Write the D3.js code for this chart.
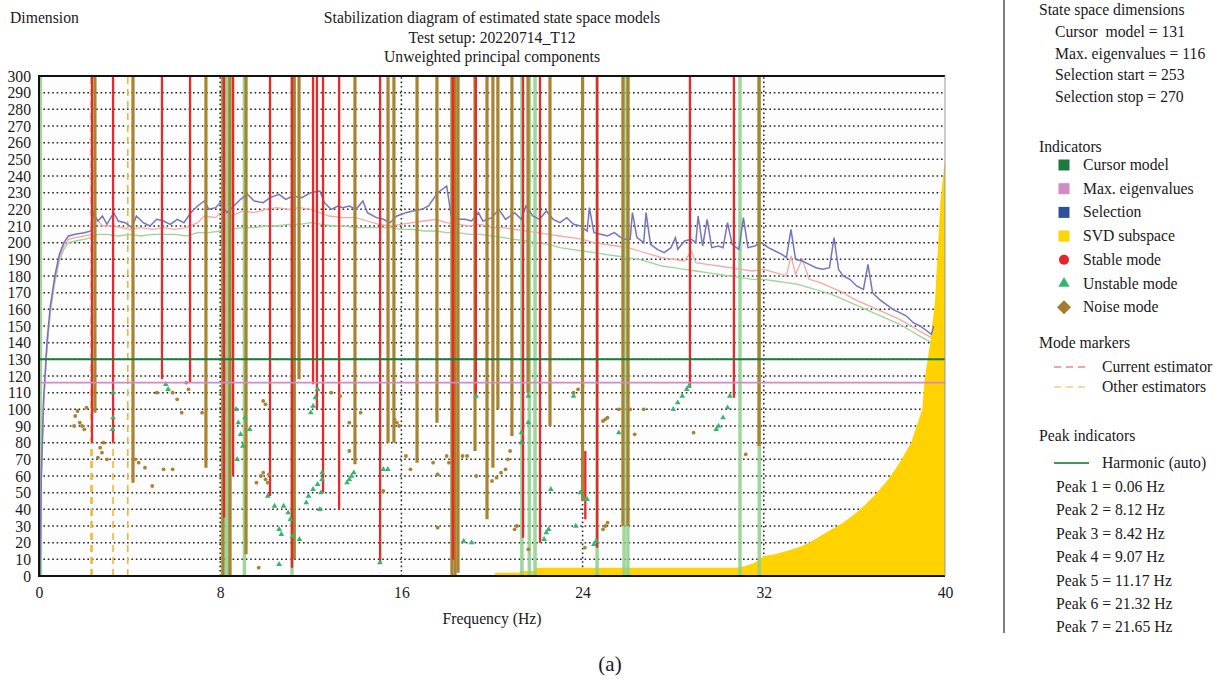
<!DOCTYPE html>
<html lang="en">
<head>
    <meta charset="UTF-8">
    <title>Stabilization diagram</title>
    <script src="https://d3js.org/d3.v7.min.js"></script>
    <style>
        body {
            margin: 0;
            background: #fff;
            font-family: "Liberation Serif", "DejaVu Serif", serif;
        }
        svg { display: block; }
        text { fill: #1a1a1a; font-size: 15.7px; }
    </style>
</head>
<body>
<div id="container"></div>
<script>

// ---- data ----
const xTickValues = [0, 8, 16, 24, 32, 40];
const yTickValues = [0, 10, 20, 30, 40, 50, 60, 70, 80, 90, 100, 110, 120, 130, 140, 150,
    160, 170, 180, 190, 200, 210, 220, 230, 240, 250, 260, 270, 280, 290, 300];

const cursorModel = 130;
const maxEigen = 116;

// [frequency, lowest dimension, highest dimension]
const stableLines = [
    [2.34, 80, 300], [3.27, 80, 300], [5.43, 118, 300], [6.67, 116, 300], [8.17, 35, 300],
    [8.57, 60, 300], [10.20, 48, 300], [11.17, 5, 300], [12.10, 115, 300], [12.27, 100, 300],
    [12.54, 50, 300], [13.25, 40, 300], [15.06, 8, 300], [18.28, 10, 300], [19.29, 108, 300],
    [21.37, 23, 300], [22.12, 20, 300], [24.12, 34, 75], [24.64, 17, 300], [28.74, 113, 300],
    [30.68, 107, 300]
];
const noiseLines = [
    [2.47, 98, 300], [4.15, 56, 300], [7.37, 65, 300], [8.12, 0, 300], [8.43, 0, 300],
    [9.14, 13, 300], [11.27, 10, 300], [11.48, 118, 300], [13.95, 67, 300], [15.41, 80, 300],
    [15.67, 80, 300], [16.69, 68, 300], [17.57, 92, 300], [18.23, 0, 300], [18.37, 0, 300],
    [18.50, 2, 300], [19.25, 75, 300], [19.78, 34, 300], [20.04, 65, 300], [20.26, 100, 300],
    [20.88, 84, 300], [21.59, 110, 300], [22.56, 90, 300], [24.00, 45, 300], [25.78, 30, 300],
    [26.00, 30, 300], [31.79, 78, 300]
];
const harmonicFreqs = [0.06, 8.12, 8.27, 8.42, 9.07, 11.17, 21.32, 21.65, 21.90, 24.64,
    25.83, 26.00, 30.95, 31.80];
const otherEstimatorLines = [[2.30, 0, 300], [2.34, 0, 80], [3.27, 0, 80], [3.92, 0, 300]];

// [frequency, dimension]
const noisePoints = [
    [1.6, 96], [1.8, 92], [1.9, 90], [2.0, 88], [1.7, 99], [2.1, 101], [1.55, 90], [2.7, 77],
    [2.85, 80], [2.78, 74], [2.6, 71], [3.0, 70], [4.25, 70], [4.4, 68], [4.68, 65], [5.0, 54],
    [5.5, 64], [5.9, 64], [5.2, 110], [5.9, 110], [6.1, 106], [6.3, 98], [6.5, 116], [6.6, 112],
    [7.2, 98], [9.9, 105], [10.0, 103], [9.8, 60], [9.9, 62], [10.0, 58], [10.1, 56], [10.15, 61],
    [9.6, 56], [9.7, 5], [12.9, 110], [13.3, 108], [13.7, 92], [13.7, 75], [14.2, 98], [15.2, 51],
    [15.7, 94], [15.8, 92], [15.9, 90], [16.4, 64], [16.2, 72], [17.4, 68], [17.6, 61], [17.6, 29],
    [18.0, 72], [18.1, 68], [18.7, 72], [18.9, 72], [19.3, 60], [20.0, 57], [20.2, 59], [20.4, 62],
    [20.6, 64], [20.7, 70], [20.8, 75], [21.0, 28], [21.1, 30], [21.6, 16], [23.6, 110], [23.8, 112],
    [24.0, 114], [24.1, 17], [24.9, 93], [25.0, 94], [25.1, 95], [24.9, 28], [25.0, 30], [25.1, 32],
    [25.6, 100], [26.1, 100], [26.7, 100], [26.3, 85], [28.9, 86], [31.2, 73]
];
const unstablePoints = [
    [3.27, 110], [3.27, 95], [3.25, 88], [5.6, 115], [5.7, 112], [8.7, 100], [8.8, 92], [8.9, 85],
    [9.0, 78], [9.1, 95], [9.3, 88], [8.75, 70], [10.1, 48], [10.4, 42], [10.8, 42], [11.0, 38],
    [11.1, 34], [10.6, 28], [10.7, 25], [11.2, 24], [11.5, 22], [11.8, 44], [11.9, 48], [12.1, 52],
    [12.3, 55], [12.5, 58], [12.0, 98], [12.1, 102], [12.2, 107], [12.3, 112], [12.5, 62], [12.45, 50],
    [12.4, 40], [13.6, 56], [13.7, 58], [13.8, 60], [13.9, 62], [15.2, 64], [15.4, 64], [15.05, 8],
    [10.6, 7], [19.1, 20], [18.75, 21], [19.3, 108], [21.3, 80], [21.3, 86], [21.6, 92], [21.6, 108],
    [22.3, 22], [22.4, 26], [22.5, 28], [22.6, 52], [23.7, 30], [23.6, 108], [23.9, 50], [24.1, 46],
    [24.2, 46], [24.5, 19], [24.6, 21], [25.6, 86], [28.0, 100], [28.2, 104], [28.4, 108], [28.6, 112],
    [28.7, 114], [29.9, 88], [30.0, 90], [30.2, 95], [30.4, 101], [30.5, 108]
];

const selectionCurve = [
    [0.05, 0], [0.1, 60], [0.2, 105], [0.35, 140], [0.5, 162], [0.7, 180], [0.9, 193], [1.1, 200],
    [1.3, 204], [1.6, 205], [2.0, 206], [2.3, 207], [2.4, 218], [2.6, 213], [2.8, 216], [3.0, 211],
    [3.3, 218], [3.5, 213], [3.8, 212], [4.1, 209], [4.3, 216], [4.6, 212], [4.9, 210], [5.2, 214],
    [5.5, 213], [5.8, 211], [6.1, 214], [6.4, 212], [6.7, 218], [7.0, 222], [7.3, 225], [7.5, 220],
    [7.8, 221], [8.0, 224], [8.3, 218], [8.6, 222], [8.9, 226], [9.2, 229], [9.5, 225], [9.9, 224],
    [10.2, 227], [10.6, 229], [10.9, 226], [11.2, 228], [11.6, 227], [12.0, 230], [12.4, 231],
    [12.6, 224], [12.9, 220], [13.2, 222], [13.4, 221], [13.7, 222], [14.0, 220], [14.3, 225],
    [14.5, 218], [14.9, 215], [15.2, 214], [15.5, 212], [15.8, 216], [16.2, 218], [16.5, 219],
    [16.9, 220], [17.2, 222], [17.6, 230], [18.0, 234], [18.2, 216], [18.5, 214], [18.8, 214],
    [19.1, 213], [19.4, 218], [19.6, 213], [20.0, 215], [20.3, 220], [20.6, 214], [21.0, 218],
    [21.3, 214], [21.5, 222], [21.8, 216], [22.1, 214], [22.4, 219], [22.7, 214], [23.0, 212],
    [23.3, 215], [23.6, 211], [23.9, 210], [24.2, 207], [24.3, 221], [24.5, 206], [24.8, 205],
    [25.1, 204], [25.4, 206], [25.8, 202], [26.1, 202], [26.2, 218], [26.4, 203], [26.7, 200],
    [26.8, 218], [27.0, 199], [27.3, 196], [27.6, 194], [27.9, 197], [28.1, 203], [28.2, 196],
    [28.5, 201], [28.8, 202], [29.0, 200], [29.1, 216], [29.3, 198], [29.5, 214], [29.7, 197],
    [30.0, 198], [30.2, 197], [30.4, 212], [30.6, 199], [30.9, 196], [31.1, 215], [31.3, 197],
    [31.6, 198], [31.9, 200], [32.2, 197], [32.5, 195], [32.8, 193], [33.0, 191], [33.2, 208],
    [33.4, 190], [33.7, 189], [34.0, 187], [34.3, 185], [34.6, 184], [34.9, 185], [35.1, 203],
    [35.3, 184], [35.5, 180], [35.8, 178], [36.1, 174], [36.4, 172], [36.6, 187], [36.8, 170],
    [37.1, 166], [37.4, 163], [37.7, 160], [38.0, 158], [38.3, 156], [38.6, 152], [38.9, 150],
    [39.2, 147], [39.4, 145], [39.5, 150]
];
const maxEigenCurve = [
    [0.05, 0], [0.1, 58], [0.2, 103], [0.35, 138], [0.5, 160], [0.7, 178], [0.9, 191], [1.1, 198],
    [1.3, 202], [1.6, 203], [2.0, 204], [2.3, 205], [2.5, 215], [2.8, 210], [3.3, 210], [4.0, 208],
    [4.5, 209], [5.0, 208], [5.5, 209], [6.0, 208], [6.5, 209], [7.0, 212], [7.3, 216], [7.8, 215],
    [8.0, 218], [8.5, 216], [9.0, 219], [9.5, 218], [10.0, 220], [10.5, 221], [11.0, 220],
    [11.5, 221], [12.0, 220], [12.4, 218], [12.8, 216], [13.4, 215], [14.0, 215], [14.5, 213],
    [15.0, 211], [15.5, 210], [16.0, 211], [16.5, 212], [17.0, 213], [17.5, 214], [18.0, 212],
    [18.5, 211], [19.0, 210], [19.5, 211], [20.0, 209], [20.5, 209], [21.0, 208], [21.5, 207],
    [22.0, 206], [22.5, 205], [23.0, 204], [23.5, 203], [24.0, 202], [24.5, 200], [25.0, 199],
    [25.5, 198], [26.0, 197], [26.5, 195], [27.0, 193], [27.5, 191], [28.0, 190], [28.5, 189],
    [28.8, 195], [29.0, 188], [29.5, 187], [30.0, 186], [30.5, 185], [31.0, 184], [31.5, 183],
    [32.0, 184], [32.5, 182], [33.0, 180], [33.2, 192], [33.4, 181], [33.7, 190], [34.0, 178],
    [34.5, 176], [35.0, 173], [35.5, 170], [36.0, 166], [36.5, 163], [37.0, 160], [37.5, 157],
    [38.0, 154], [38.5, 150], [39.0, 146], [39.4, 143]
];
const cursorCurve = [
    [0.05, 0], [0.1, 56], [0.2, 101], [0.35, 136], [0.5, 158], [0.7, 176], [0.9, 189], [1.1, 196],
    [1.3, 200], [1.6, 201], [2.0, 202], [2.3, 203], [2.6, 205], [3.0, 205], [3.5, 204], [4.0, 205],
    [4.5, 204], [5.0, 205], [5.5, 205], [6.0, 205], [6.5, 204], [7.0, 206], [7.5, 206], [8.0, 207],
    [8.5, 208], [9.0, 209], [9.5, 209], [10.0, 210], [10.5, 210], [11.0, 211], [11.5, 211],
    [12.0, 212], [12.5, 211], [13.0, 210], [13.5, 210], [14.0, 209], [14.5, 209], [15.0, 209],
    [15.5, 209], [16.0, 208], [16.5, 208], [17.0, 207], [17.5, 207], [18.0, 206], [18.5, 206],
    [19.0, 205], [19.5, 205], [20.0, 204], [20.5, 203], [21.0, 202], [21.5, 201], [22.0, 200],
    [22.5, 199], [23.0, 197], [23.5, 196], [24.0, 195], [24.5, 194], [25.0, 193], [25.5, 192],
    [26.0, 191], [26.5, 190], [27.0, 188], [27.5, 186], [28.0, 185], [28.5, 184], [29.0, 183],
    [29.5, 182], [30.0, 181], [30.5, 180], [31.0, 179], [31.5, 178], [32.0, 178], [32.5, 177],
    [33.0, 176], [33.5, 175], [34.0, 173], [34.5, 171], [35.0, 169], [35.5, 166], [36.0, 163],
    [36.5, 160], [37.0, 157], [37.5, 154], [38.0, 151], [38.5, 147], [39.0, 143], [39.4, 140]
];
const svdSubspace = [
    [20.1, 0], [20.15, 2], [21.2, 2], [21.25, 3], [21.9, 3], [21.95, 5], [25.0, 5], [28.0, 5],
    [30.8, 5], [31.2, 6], [31.6, 8], [32.0, 12], [32.5, 13], [33.0, 15], [33.5, 17], [34.0, 20],
    [34.5, 24], [35.0, 28], [35.5, 32], [36.0, 37], [36.5, 43], [37.0, 50], [37.5, 58], [38.0, 68],
    [38.5, 80], [39.0, 100], [39.1, 118], [39.35, 140], [39.56, 165], [39.8, 225], [40.0, 250]
];

const dimensionLines = ['Cursor  model = 131', 'Max. eigenvalues = 116', 'Selection start = 253', 'Selection stop = 270'];
const peakLabels = ['Peak 1 = 0.06 Hz', 'Peak 2 = 8.12 Hz', 'Peak 3 = 8.42 Hz', 'Peak 4 = 9.07 Hz',
    'Peak 5 = 11.17 Hz', 'Peak 6 = 21.32 Hz', 'Peak 7 = 21.65 Hz'];

// ---- drawing ----
const width = 1220, height = 680;
const svg = d3.select('#container').append('svg')
    .attr('width', width).attr('height', height);

const x = d3.scaleLinear().domain([0, 40]).range([39, 945]);
const y = d3.scaleLinear().domain([0, 300]).range([576, 76]);

// titles
svg.append('text').attr('x', 10).attr('y', 23).text('Dimension');
const titles = ['Stabilization diagram of estimated state space models', 'Test setup: 20220714_T12', 'Unweighted principal components'];
svg.selectAll('.title').data(titles).enter().append('text')
    .attr('x', 492).attr('y', (d, i) => 23 + i * 19.5)
    .attr('text-anchor', 'middle').text(d => d);

// plot background
svg.append('rect').attr('x', x(0)).attr('y', y(300))
    .attr('width', x(40) - x(0)).attr('height', y(0) - y(300)).attr('fill', '#fdfdfd');

// dotted grid
const grid = svg.append('g');
grid.selectAll('.hg').data(yTickValues.filter(v => v > 0 && v < 300)).enter().append('line')
    .attr('x1', x(0)).attr('x2', x(40)).attr('y1', d => y(d)).attr('y2', d => y(d))
    .attr('stroke', '#222').attr('stroke-width', 1.5).attr('stroke-dasharray', '1.6,2.8');
grid.selectAll('.vg').data(xTickValues.filter(v => v > 0 && v < 40)).enter().append('line')
    .attr('x1', d => x(d)).attr('x2', d => x(d)).attr('y1', y(0)).attr('y2', y(300))
    .attr('stroke', '#222').attr('stroke-width', 1.5).attr('stroke-dasharray', '1.6,2.8');

// SVD subspace
svg.append('path').datum(svdSubspace)
    .attr('fill', '#ffd200')
    .attr('d', d3.area().x(d => x(d[0])).y0(y(0)).y1(d => y(d[1])));

// harmonic peak indicators
svg.selectAll('.harm').data(harmonicFreqs).enter().append('line')
    .attr('x1', d => x(d)).attr('x2', d => x(d)).attr('y1', y(0)).attr('y2', y(300))
    .attr('stroke', '#8ed08a').attr('stroke-width', 3.5).attr('opacity', 0.85);

// other estimators
svg.selectAll('.other').data(otherEstimatorLines).enter().append('line')
    .attr('x1', d => x(d[0])).attr('x2', d => x(d[0])).attr('y1', d => y(d[1])).attr('y2', d => y(d[2]))
    .attr('stroke', '#f3b436').attr('stroke-width', 1.6).attr('stroke-dasharray', '7,5');

// spectrum-like curves
const line = d3.line().x(d => x(d[0])).y(d => y(d[1]));
svg.append('path').datum(cursorCurve).attr('fill', 'none')
    .attr('stroke', '#9fd49a').attr('stroke-width', 1.3).attr('d', line);
svg.append('path').datum(maxEigenCurve).attr('fill', 'none')
    .attr('stroke', '#f4a9a6').attr('stroke-width', 1.3).attr('d', line);
svg.append('path').datum(selectionCurve).attr('fill', 'none')
    .attr('stroke', '#7474bf').attr('stroke-width', 1.5).attr('d', line);

// noise mode lines
svg.selectAll('.noise').data(noiseLines).enter().append('line')
    .attr('x1', d => x(d[0])).attr('x2', d => x(d[0])).attr('y1', d => y(d[1])).attr('y2', d => y(d[2]))
    .attr('stroke', '#a88331').attr('stroke-width', 3.2);

// stable mode lines
svg.selectAll('.stable').data(stableLines).enter().append('line')
    .attr('x1', d => x(d[0])).attr('x2', d => x(d[0])).attr('y1', d => y(d[1])).attr('y2', d => y(d[2]))
    .attr('stroke', '#e8292b').attr('stroke-width', 2.3);

// scattered modes
svg.selectAll('.np').data(noisePoints).enter().append('circle')
    .attr('cx', d => x(d[0])).attr('cy', d => y(d[1])).attr('r', 1.9).attr('fill', '#a88331');
svg.selectAll('.up').data(unstablePoints).enter().append('path')
    .attr('transform', d => `translate(${x(d[0])},${y(d[1])})`)
    .attr('d', d3.symbol(d3.symbolTriangle, 14))
    .attr('fill', '#35b56e');

// cursor model and max eigenvalues
svg.append('line').attr('x1', x(0)).attr('x2', x(40)).attr('y1', y(cursorModel)).attr('y2', y(cursorModel))
    .attr('stroke', '#1e7a3c').attr('stroke-width', 2);
svg.append('line').attr('x1', x(0)).attr('x2', x(40)).attr('y1', y(maxEigen)).attr('y2', y(maxEigen))
    .attr('stroke', '#d28ac8').attr('stroke-width', 1.6);

// frame
svg.append('path')
    .attr('d', `M${x(40)},${y(300)}H${x(0)}V${y(0)}H${x(40)}`)
    .attr('fill', 'none').attr('stroke', '#111').attr('stroke-width', 2);
svg.append('line').attr('x1', x(40)).attr('x2', x(40)).attr('y1', y(300)).attr('y2', y(0))
    .attr('stroke', '#999').attr('stroke-width', 1);

// axes
const yAxis = svg.append('g').attr('transform', `translate(${x(0)},0)`)
    .call(d3.axisLeft(y).tickValues(yTickValues).tickSize(0).tickPadding(8));
const xAxis = svg.append('g').attr('transform', `translate(0,${y(0)})`)
    .call(d3.axisBottom(x).tickValues(xTickValues).tickSize(0).tickPadding(11));
[yAxis, xAxis].forEach(g => {
    g.select('.domain').remove();
    g.selectAll('text').attr('font-family', '"Liberation Serif", serif').attr('font-size', 15.5).attr('fill', '#1a1a1a');
});

svg.append('text').attr('x', 492).attr('y', 624).attr('text-anchor', 'middle').text('Frequency (Hz)');
svg.append('text').attr('x', 610).attr('y', 671).attr('text-anchor', 'middle')
    .style('font-size', '21px').text('(a)');

// ---- legend ----
svg.append('line').attr('x1', 1004).attr('x2', 1004).attr('y1', 0).attr('y2', 633)
    .attr('stroke', '#555').attr('stroke-width', 1.5);

const lg = svg.append('g');
lg.append('text').attr('x', 1039).attr('y', 15).text('State space dimensions');
lg.selectAll('.dim').data(dimensionLines).enter().append('text')
    .attr('x', 1055).attr('y', (d, i) => 37 + i * 21.7).attr('xml:space', 'preserve').text(d => d);

lg.append('text').attr('x', 1039).attr('y', 152).text('Indicators');
const indicators = [
    { label: 'Cursor model', shape: 'square', color: '#1b7a3e' },
    { label: 'Max. eigenvalues', shape: 'square', color: '#d08cc4' },
    { label: 'Selection', shape: 'square', color: '#2f4ea0' },
    { label: 'SVD subspace', shape: 'square', color: '#ffd500' },
    { label: 'Stable mode', shape: 'circle', color: '#e8242a' },
    { label: 'Unstable mode', shape: 'triangle', color: '#36b36c' },
    { label: 'Noise mode', shape: 'diamond', color: '#a47c2e' }
];
const ind = lg.selectAll('.ind').data(indicators).enter().append('g')
    .attr('transform', (d, i) => `translate(0,${165 + i * 23.7})`);
ind.append('path')
    .attr('transform', 'translate(1064,0)')
    .attr('d', d => {
        if (d.shape === 'square') return 'M-5.5,-5.5h11v11h-11z';
        if (d.shape === 'circle') return d3.symbol(d3.symbolCircle, 80)();
        if (d.shape === 'triangle') return d3.symbol(d3.symbolTriangle, 55)();
        return 'M0,-7L7,0L0,7L-7,0Z';
    })
    .attr('fill', d => d.color);
ind.append('text').attr('x', 1083).attr('y', 5).text(d => d.label);

lg.append('text').attr('x', 1039).attr('y', 348).text('Mode markers');
const markers = [{ label: 'Current estimator', color: '#f08585' }, { label: 'Other estimators', color: '#f6cc86' }];
const mk = lg.selectAll('.mk').data(markers).enter().append('g')
    .attr('transform', (d, i) => `translate(0,${367 + i * 20})`);
mk.append('line').attr('x1', 1054).attr('x2', 1089).attr('stroke', d => d.color)
    .attr('stroke-width', 1.5).attr('stroke-dasharray', '7,5');
mk.append('text').attr('x', 1102).attr('y', 5).text(d => d.label);

lg.append('text').attr('x', 1039).attr('y', 441).text('Peak indicators');
lg.append('line').attr('x1', 1054).attr('x2', 1089).attr('y1', 463).attr('y2', 463)
    .attr('stroke', '#3c9a58').attr('stroke-width', 2);
lg.append('text').attr('x', 1102).attr('y', 468).text('Harmonic (auto)');
lg.selectAll('.peak').data(peakLabels).enter().append('text')
    .attr('x', 1056).attr('y', (d, i) => 492 + i * 23.4).text(d => d);

</script>
</body>
</html>
